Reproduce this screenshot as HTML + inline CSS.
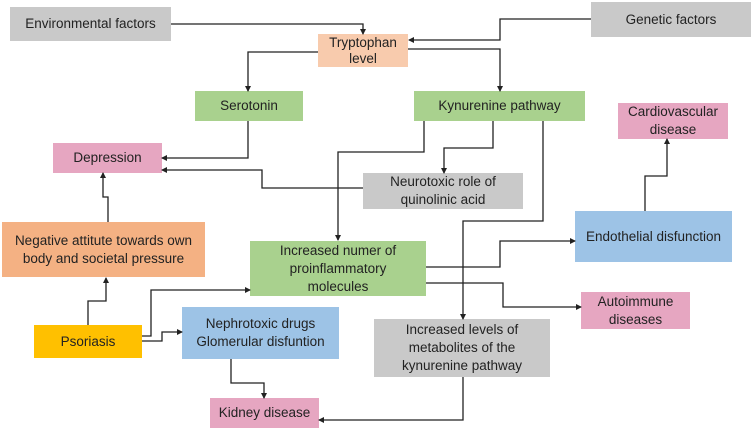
<!DOCTYPE html>
<html><head><style>
body{margin:0;width:754px;height:431px;background:#fff;position:relative;overflow:hidden;font-family:"Liberation Sans",sans-serif;}
.b{position:absolute;display:flex;align-items:center;justify-content:center;text-align:center;font-size:13.5px;line-height:18px;color:#222;box-sizing:border-box;white-space:nowrap;}
.g{background:#c9c9c9}.gr{background:#a9d18e}.p{background:#e6a6c1}.bl{background:#9dc3e6}.o{background:#f4b183}.t{background:#f8cbad}.y{background:#ffc000}
svg{position:absolute;left:0;top:0}
</style></head><body>
<div class="b g" style="left:10px;top:7px;width:161px;height:34px">Environmental factors</div>
<div class="b g" style="left:591px;top:2px;width:160px;height:35px">Genetic factors</div>
<div class="b t" style="left:318px;top:34px;width:90px;height:33px;line-height:16px">Tryptophan<br>level</div>
<div class="b gr" style="left:195px;top:91px;width:108px;height:30px">Serotonin</div>
<div class="b gr" style="left:414px;top:91px;width:171px;height:30px">Kynurenine pathway</div>
<div class="b p" style="left:618px;top:103px;width:110px;height:36px">Cardiovascular<br>disease</div>
<div class="b p" style="left:53px;top:143px;width:109px;height:30px">Depression</div>
<div class="b g" style="left:363px;top:173px;width:160px;height:36px">Neurotoxic role of<br>quinolinic acid</div>
<div class="b bl" style="left:575px;top:211px;width:157px;height:51px">Endothelial disfunction</div>
<div class="b o" style="left:2px;top:222px;width:203px;height:55px">Negative attitute towards own<br>body and societal pressure</div>
<div class="b gr" style="left:250px;top:241px;width:176px;height:55px">Increased numer of<br>proinflammatory<br>molecules</div>
<div class="b p" style="left:581px;top:292px;width:109px;height:37px">Autoimmune<br>diseases</div>
<div class="b y" style="left:34px;top:325px;width:108px;height:33px">Psoriasis</div>
<div class="b bl" style="left:182px;top:307px;width:157px;height:52px">Nephrotoxic drugs<br>Glomerular disfuntion</div>
<div class="b g" style="left:374px;top:319px;width:176px;height:58px">Increased levels of<br>metabolites of the<br>kynurenine pathway</div>
<div class="b p" style="left:210px;top:398px;width:109px;height:30px">Kidney disease</div>
<svg width="754" height="431">
<defs><marker id="a" markerWidth="6" markerHeight="6" refX="5" refY="3" orient="auto" markerUnits="userSpaceOnUse"><path d="M0,0L6,3L0,6z" fill="#222"/></marker></defs>
<g fill="none" stroke="#222" stroke-width="1.3" marker-end="url(#a)">
<path d="M171,24H363V34"/>
<path d="M591,19H500V40H409"/>
<path d="M318,52H248V91"/>
<path d="M408,49H500V91"/>
<path d="M248,121V158H162"/>
<path d="M363,188H262V170H162"/>
<path d="M424,121V152H338V240"/>
<path d="M493,121V148H444V173"/>
<path d="M543,121V221H463V319"/>
<path d="M645,211V176H667V139"/>
<path d="M108,222V197H103V173"/>
<path d="M88,325V301H106V278"/>
<path d="M142,336H151V290H250"/>
<path d="M142,341H162V332H182"/>
<path d="M426,267H500V241H575"/>
<path d="M426,283H503V307H581"/>
<path d="M231,359V383H264V398"/>
<path d="M463,377V420H319"/>
</g></svg>
</body></html>
